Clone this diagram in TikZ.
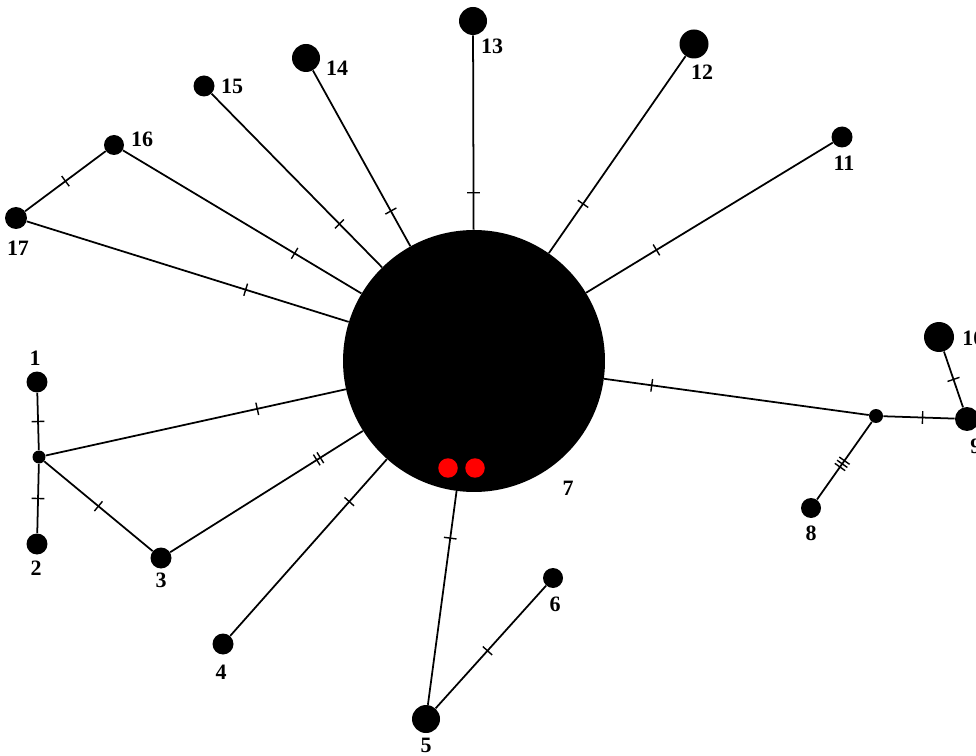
\documentclass[tikz,border=0pt]{standalone}
\usepackage{fontspec}
\setmainfont{Liberation Serif}
\usetikzlibrary{decorations.markings}
\tikzset{
  hap/.style={circle, fill=black, inner sep=0pt, minimum size=#1},
  lbl/.style={inner sep=0pt, font=\bfseries\fontsize{12.5}{14}\selectfont},
  edge/.style={line width=1pt},
  mutone/.style={postaction={decorate, decoration={markings, mark=at position #1 with {\draw[line width=0.8pt] (0,-3.6pt) -- (0,3.6pt);}}}},
  muttwo/.style={postaction={decorate, decoration={markings, mark=at position #1 with {\draw[line width=0.8pt] (-1.2pt,-3.6pt) -- (-1.2pt,3.6pt) (1.2pt,-3.6pt) -- (1.2pt,3.6pt);}}}},
  mutthree/.style={postaction={decorate, decoration={markings, mark=at position #1 with {\draw[line width=0.8pt] (-2.2pt,-3.6pt) -- (-2.2pt,3.6pt) (0,-3.6pt) -- (0,3.6pt) (2.2pt,-3.6pt) -- (2.2pt,3.6pt);}}}},
}
\begin{document}
\begin{tikzpicture}[x=0.02cm, y=-0.02cm]
\useasboundingbox (0,0) rectangle (976,756);
\node [hap=5.24cm] (n7) at (474,361) {};
\node [hap=0.56cm] (n13) at (473,21) {};
\node [hap=0.58cm] (n12) at (694,44) {};
\node [hap=0.42cm] (n11) at (842,137) {};
\node [hap=0.56cm] (n14) at (306,58) {};
\node [hap=0.42cm] (n15) at (204,86) {};
\node [hap=0.40cm] (n16) at (114,145) {};
\node [hap=0.44cm] (n17) at (16,218) {};
\node [hap=0.42cm] (n1) at (37,382) {};
\node [hap=0.26cm] (mL) at (39,457) {};
\node [hap=0.42cm] (n2) at (37,544) {};
\node [hap=0.42cm] (n3) at (161,558) {};
\node [hap=0.42cm] (n4) at (223,644) {};
\node [hap=0.56cm] (n5) at (426,719) {};
\node [hap=0.40cm] (n6) at (553,578) {};
\node [hap=0.28cm] (mR) at (876,416) {};
\node [hap=0.48cm] (n9) at (967,419) {};
\node [hap=0.60cm] (n10) at (939,337) {};
\node [hap=0.40cm] (n8) at (811,508) {};
\node [hap=0.39cm, fill=red] (r1) at (448,468) {};
\node [hap=0.39cm, fill=red] (r2) at (475,468) {};
\draw [edge, mutone=0.19] (n7) -- (n13);
\draw [edge, mutone=0.25] (n7) -- (n12);
\draw [edge, mutone=0.285] (n7) -- (n11);
\draw [edge, mutone=0.20] (n7) -- (n14);
\draw [edge, mutone=0.25] (n7) -- (n15);
\draw [edge, mutone=0.28] (n7) -- (n16);
\draw [edge, mutone=0.32] (n7) -- (n17);
\draw [edge, mutone=0.5] (n16) -- (n17);
\draw [edge, mutone=0.295] (n7) -- (mL);
\draw [edge, mutone=0.5] (mL) -- (n1);
\draw [edge, mutone=0.5] (mL) -- (n2);
\draw [edge, mutone=0.5] (mL) -- (n3);
\draw [edge, muttwo=0.23] (n7) -- (n3);
\draw [edge, mutone=0.24] (n7) -- (n4);
\draw [edge, mutone=0.22] (n7) -- (n5);
\draw [edge, mutone=0.47] (n5) -- (n6);
\draw [edge, mutone=0.18] (n7) -- (mR);
\draw [edge, mutone=0.55] (mR) -- (n9);
\draw [edge, mutone=0.5] (n10) -- (n9);
\draw [edge, mutthree=0.54] (mR) -- (n8);
\node [lbl] (l13) at (492,46) {13};
\node [lbl] (l12) at (702,72) {12};
\node [lbl] (l11) at (844,163) {11};
\node [lbl] (l14) at (337,68) {14};
\node [lbl] (l15) at (232,86) {15};
\node [lbl] (l16) at (142,139) {16};
\node [lbl] (l17) at (18,248) {17};
\node [lbl] (l1) at (35,358) {1};
\node [lbl] (l2) at (36,568) {2};
\node [lbl] (l3) at (161,580) {3};
\node [lbl] (l4) at (221,672) {4};
\node [lbl] (l5) at (426,745) {5};
\node [lbl] (l6) at (555,604) {6};
\node [lbl] (l7) at (568,488) {7};
\node [lbl] (l8) at (811,533) {8};
\node [lbl, anchor=west] (l9) at (970,446) {9};
\node [lbl, anchor=west] (l10) at (962,338) {10};
\end{tikzpicture}
\end{document}
